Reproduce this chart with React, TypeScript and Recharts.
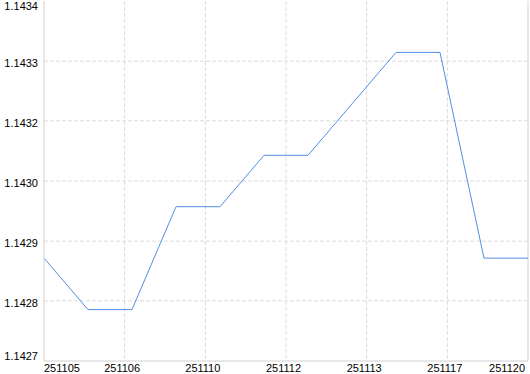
import React from 'react';
import { LineChart, Line, XAxis, YAxis, CartesianGrid, ReferenceLine } from 'recharts';

const pointIndex = [0, 1, 2, 3, 4, 5, 6, 7, 8, 9, 10, 11];
const prices = [1.1429, 1.1428, 1.1428, 1.143, 1.143, 1.1431, 1.1431, 1.1432, 1.1433, 1.1433, 1.1429, 1.1429];

const xTickValues = [0, 11 / 6, 22 / 6, 33 / 6, 44 / 6, 55 / 6, 11];
const xTickLabels = ['251105', '251106', '251110', '251112', '251113', '251117', '251120'];

const yTickValues = [1.1427, 1.142817, 1.142933, 1.14305, 1.143167, 1.143283, 1.1434];
const yTickLabels = ['1.1427', '1.1428', '1.1429', '1.1430', '1.1432', '1.1433', '1.1434'];

const data = pointIndex.map((i, k) => ({ idx: i, price: prices[k] }));

const FONT = '"Liberation Sans", Arial, sans-serif';

const YTick = (props: any) => {
  const { y, payload } = props;
  let i = yTickValues.findIndex((v) => Math.abs(v - payload.value) < 1e-7);
  if (i < 0) i = 0;
  let off = 2;
  if (i === 0) off = -5;
  if (i === yTickValues.length - 1) off = 5;
  return (
    <text x={38} y={y + off + 4} textAnchor="end" fontSize={11} fontFamily={FONT} fill="#000">
      {yTickLabels[i]}
    </text>
  );
};

const XTick = (props: any) => {
  const { x, payload } = props;
  let i = xTickValues.findIndex((v) => Math.abs(v - payload.value) < 1e-6);
  if (i < 0) i = 0;
  let anchor: any = 'middle';
  let tx = x - 2.5;
  if (i === 0) {
    anchor = 'start';
    tx = x;
  } else if (i === xTickValues.length - 1) {
    anchor = 'end';
    tx = x - 3;
  }
  return (
    <text x={tx} y={372} textAnchor={anchor} fontSize={11} fontFamily={FONT} fill="#000">
      {xTickLabels[i]}
    </text>
  );
};

export default function App() {
  return (
    <div style={{ position: 'absolute', left: 0, top: 0, width: 530, height: 374, background: '#fff' }}>
      <LineChart width={530} height={374} data={data} margin={{ top: 1, right: 2, bottom: 0, left: 0 }}>
        <CartesianGrid
          stroke="#dcdcdc"
          strokeDasharray="4 2"
          horizontalValues={yTickValues.slice(1, -1)}
          verticalValues={xTickValues.slice(1, -1)}
        />
        <XAxis
          dataKey="idx"
          type="number"
          domain={[0, 11]}
          ticks={xTickValues}
          interval={0}
          height={13}
          tickLine={false}
          axisLine={{ stroke: '#d0d0d0' }}
          tick={<XTick />}
          allowDataOverflow
        />
        <YAxis
          type="number"
          domain={[1.1427, 1.1434]}
          ticks={yTickValues}
          interval={0}
          width={44}
          tickLine={false}
          axisLine={{ stroke: '#d0d0d0' }}
          tick={<YTick />}
          allowDataOverflow
        />
        <ReferenceLine x={11} stroke="#d0d0d0" />
        <Line
          type="linear"
          dataKey="price"
          stroke="#4f8fe3"
          strokeWidth={1}
          dot={false}
          activeDot={false}
          isAnimationActive={false}
        />
      </LineChart>
    </div>
  );
}
